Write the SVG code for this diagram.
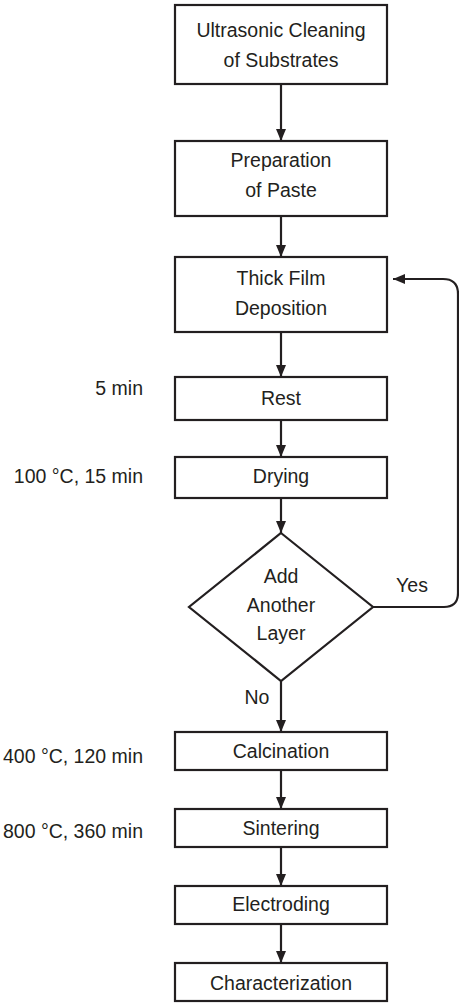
<svg xmlns="http://www.w3.org/2000/svg" width="459" height="1003" viewBox="0 0 459 1003">
<style>
.box{fill:#fff;stroke:#231f20;stroke-width:2.2}
.t{font-family:"Liberation Sans",Arial,sans-serif;font-size:19.5px;fill:#231f20;text-anchor:middle}
.l{font-family:"Liberation Sans",Arial,sans-serif;font-size:19.5px;fill:#231f20;text-anchor:end}
.c{fill:none;stroke:#231f20;stroke-width:2.2}
</style>
<defs>
<marker id="ah" viewBox="0 0 12 10" refX="12" refY="5" markerWidth="12" markerHeight="10" markerUnits="userSpaceOnUse" orient="auto">
<path d="M0,0 L12,5 L0,10 Z" fill="#231f20"/>
</marker>
</defs>
<rect width="459" height="1003" fill="#fff"/>
<g id="connectors">
<line class="c" x1="281" y1="84" x2="281" y2="141" marker-end="url(#ah)"/>
<line class="c" x1="281" y1="216" x2="281" y2="257" marker-end="url(#ah)"/>
<line class="c" x1="281" y1="332" x2="281" y2="377" marker-end="url(#ah)"/>
<line class="c" x1="281" y1="420" x2="281" y2="457" marker-end="url(#ah)"/>
<line class="c" x1="281" y1="498" x2="281" y2="533" marker-end="url(#ah)"/>
<line class="c" x1="281" y1="681" x2="281" y2="732" marker-end="url(#ah)"/>
<line class="c" x1="281" y1="770" x2="281" y2="809" marker-end="url(#ah)"/>
<line class="c" x1="281" y1="847" x2="281" y2="886" marker-end="url(#ah)"/>
<line class="c" x1="281" y1="924" x2="281" y2="963" marker-end="url(#ah)"/>
<path class="c" d="M373,607 H444 Q458,607 458,593 V294 Q458,279 443,279 H393" marker-end="url(#ah)"/>
<text class="t" x="412" y="592">Yes</text>
<text class="t" x="257" y="704">No</text>
</g>
<g id="n1"><rect class="box" x="175" y="5" width="212" height="79"/><text class="t" x="281" y="37">Ultrasonic Cleaning</text><text class="t" x="281" y="67">of Substrates</text></g>
<g id="n2"><rect class="box" x="175" y="141" width="212" height="75"/><text class="t" x="281" y="167">Preparation</text><text class="t" x="281" y="197">of Paste</text></g>
<g id="n3"><rect class="box" x="175" y="257" width="212" height="75"/><text class="t" x="281" y="285">Thick Film</text><text class="t" x="281" y="315">Deposition</text></g>
<g id="n4"><rect class="box" x="175" y="377" width="212" height="43"/><text class="t" x="281" y="405">Rest</text><text class="l" x="143" y="395">5 min</text></g>
<g id="n5"><rect class="box" x="175" y="457" width="212" height="41"/><text class="t" x="281" y="483">Drying</text><text class="l" x="143" y="483">100 °C, 15 min</text></g>
<g id="n6"><polygon class="box" points="281,533 373,607 281,681 189,607"/><text class="t" x="281" y="583">Add</text><text class="t" x="281" y="612">Another</text><text class="t" x="281" y="640">Layer</text></g>
<g id="n7"><rect class="box" x="175" y="732" width="212" height="38"/><text class="t" x="281" y="758">Calcination</text><text class="l" x="143" y="763">400 °C, 120 min</text></g>
<g id="n8"><rect class="box" x="175" y="809" width="212" height="38"/><text class="t" x="281" y="835">Sintering</text><text class="l" x="143" y="838">800 °C, 360 min</text></g>
<g id="n9"><rect class="box" x="175" y="886" width="212" height="38"/><text class="t" x="281" y="911">Electroding</text></g>
<g id="n10"><rect class="box" x="175" y="963" width="212" height="38"/><text class="t" x="281" y="990">Characterization</text></g>
</svg>
